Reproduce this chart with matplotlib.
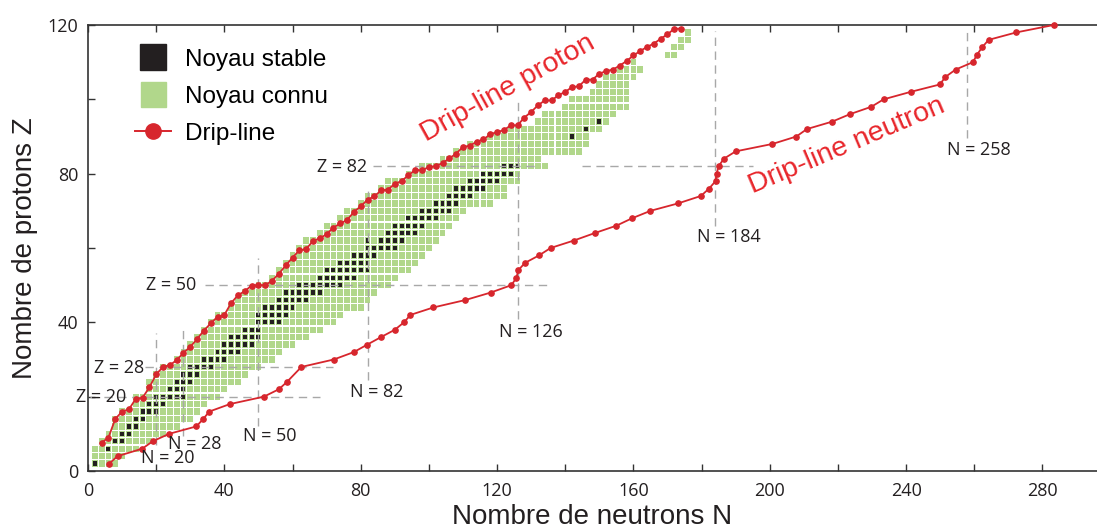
import matplotlib
matplotlib.use('Agg')
import matplotlib.pyplot as plt
from matplotlib.lines import Line2D

plt.rcParams['font.family'] = ['Liberation Sans', 'DejaVu Sans']

# proton drip line: (N, Zmax)
proton_N = [4, 6, 8, 10, 12, 14, 16, 18, 20, 22, 24, 26, 28, 30, 32, 34, 36, 38, 40, 42,
            44, 46, 48, 50, 52, 54, 56, 58, 60, 62, 64, 66, 68, 70, 72, 74, 76, 78, 80, 82,
            84, 86, 88, 90, 92, 94, 96, 98, 100, 102, 104, 106, 108, 110, 112, 114, 116, 118, 120, 122,
            124, 126, 128, 130, 132, 134, 136, 138, 140, 142, 144, 146, 148, 150, 152, 154, 156, 158, 160, 162,
            164, 166, 168, 170, 172, 174]
proton_Z = [7.6, 9, 14, 16, 16.6, 19.4, 19.7, 22.5, 26, 28, 28.5, 29.8, 31.8, 33.4, 35.5, 37.8, 39.7, 41.5, 42, 45.2,
            47.3, 48.4, 49.9, 50, 50, 51.2, 53.1, 55.3, 57.4, 59.4, 59.7, 61.9, 62.6, 63.7, 65.5, 66.6, 67.5, 69.7, 71.2, 73,
            73.9, 75.5, 75.7, 77.3, 78, 79.6, 81, 80.9, 81.8, 82, 82.9, 84.1, 85.4, 87.2, 87.5, 88.6, 89.2, 90.6, 91.2, 91.7,
            93, 93, 95.1, 96.6, 98.4, 99.7, 99.7, 101.1, 102, 103.3, 103.5, 105.3, 105.3, 106.9, 107.6, 108, 109.1, 110.3, 111.8, 113,
            114.1, 115, 116.3, 117.5, 119, 119]

# neutron drip line: (Nmax, Z)
neutron_Z = [2, 4, 6, 8, 10, 12, 14, 16, 18, 20, 22, 24, 28, 30, 32, 34, 36, 38, 40, 42,
             44, 46, 48, 50, 52, 54, 56, 58, 60, 62, 64, 66, 68, 70, 72, 74, 76, 78, 80, 82,
             84, 86, 88, 90, 92, 94, 96, 98, 100, 102, 104, 106, 108, 110, 112, 114, 116, 118, 120]
neutron_N = [6.2, 8.7, 15.9, 19, 23.8, 31.8, 33.8, 35.6, 41.6, 51.6, 56, 58.4, 62.6, 72.1, 78, 81.9, 85.9, 90, 92.7, 94.6,
             101.3, 110.7, 118.1, 124.2, 125.7, 126.2, 128.2, 132.3, 135.7, 142.5, 148.6, 155, 159.6, 165, 173.1, 179.8, 182.2, 184.1, 184.4, 185,
             186.5, 190, 200.8, 207.8, 210.9, 218.3, 223.5, 229.8, 233.4, 241.3, 249.9, 251.5, 254.5, 259.6, 260.8, 262.3, 264.2, 272.3, 283.3]

# known nuclei: one row of cells per even Z, from Nmin to Nmax
known_Z = [2, 4, 6, 8, 10, 12, 14, 16, 18, 20, 22, 24, 26, 28, 30, 32, 34, 36, 38, 40,
           42, 44, 46, 48, 50, 52, 54, 56, 58, 60, 62, 64, 66, 68, 70, 72, 74, 76, 78, 80,
           82, 84, 86, 88, 90, 92, 94, 96, 98, 100, 102, 104, 106, 108, 110, 112, 114, 116, 118]
known_Nmin = [2, 2, 2, 4, 6, 8, 8, 10, 14, 14, 18, 18, 20, 22, 26, 28, 30, 32, 34, 36,
              38, 42, 44, 46, 50, 54, 56, 58, 60, 62, 64, 68, 70, 74, 76, 80, 82, 86, 88, 94,
              98, 104, 108, 112, 118, 124, 132, 134, 140, 142, 148, 150, 152, 156, 160, 170, 172, 174, 176]
known_Nmax = [8, 10, 14, 18, 22, 26, 30, 32, 34, 38, 40, 44, 46, 50, 54, 56, 60, 64, 68, 72,
              74, 80, 82, 84, 88, 90, 94, 96, 98, 100, 102, 104, 106, 108, 110, 118, 122, 122, 126, 126,
              134, 132, 144, 146, 146, 150, 152, 154, 158, 158, 158, 158, 160, 162, 160, 172, 174, 176, 176]

# stable nuclei (even N only on this grid)
stable_Z = [2, 6, 8, 10, 12, 14, 16, 18, 20, 22, 24, 26, 28, 30, 32, 34, 36, 38, 40, 42,
            44, 46, 48, 50, 52, 54, 56, 58, 60, 62, 64, 66, 68, 70, 72, 74, 76, 78, 80, 82,
            90, 92, 94]
stable_N = [[2], [6], [8, 10], [10, 12], [12, 14], [14, 16], [16, 18, 20], [18, 20, 22],
            [20, 22, 24, 26, 28], [24, 26, 28], [26, 28, 30], [28, 30, 32], [30, 32, 34, 36],
            [34, 36, 38, 40], [38, 40, 42, 44], [40, 42, 44, 46, 48], [42, 44, 46, 48, 50],
            [46, 48, 50], [50, 52, 54, 56], [50, 52, 54, 56, 58], [52, 54, 56, 58, 60],
            [56, 58, 60, 62, 64], [58, 60, 62, 64, 66, 68], [62, 64, 66, 68, 70, 72, 74],
            [68, 70, 72, 74, 76, 78], [70, 72, 74, 76, 78, 80, 82], [74, 76, 78, 80, 82],
            [78, 80, 82, 84], [82, 84, 86, 88, 90], [82, 86, 88, 90, 92], [88, 90, 92, 94, 96],
            [90, 92, 94, 96, 98], [94, 96, 98, 100, 102], [98, 100, 102, 104, 106],
            [102, 104, 106, 108], [106, 108, 110, 112], [108, 110, 112, 114, 116],
            [112, 114, 116, 118, 120], [116, 118, 120, 122, 124], [122, 124, 126],
            [142], [146], [150]]

# magic numbers
magic_N = [20, 28, 50, 82, 126, 184, 258]
magic_Z = [20, 28, 50, 82]

x_ticks = [0, 20, 40, 60, 80, 100, 120, 140, 160, 180, 200, 220, 240, 260, 280]
x_tick_labels = ['0', '', '40', '', '80', '', '120', '', '160', '', '200', '', '240', '', '280']
y_ticks = [0, 20, 40, 60, 80, 100, 120]
y_tick_labels = ['0', '', '40', '', '80', '', '120']

GREEN = '#b1d78b'
BLACK = '#231f20'
RED = '#d7262d'
GRAY = '#a8a8a8'
TXT = '#231f20'

fig = plt.figure(figsize=(10.97, 5.31), dpi=100)
ax = fig.add_axes([88 / 1097, 60 / 531, 1009 / 1097, 446 / 531])

for z, n0, n1 in zip(known_Z, known_Nmin, known_Nmax):
    ns = list(range(n0, n1 + 1, 2))
    ax.bar(ns, 1.7, width=1.7, bottom=z - 0.85, color=GREEN, linewidth=0, zorder=1)

for z, ns in zip(stable_Z, stable_N):
    ax.bar(ns, 1.15, width=1.15, bottom=z - 0.575, color=BLACK, linewidth=0, zorder=2)

# dashed guides for the magic numbers
n_spans = [(7, 37), (9.5, 38.5), (12, 57.3), (24.5, 76.4), (41, 100.5), (66, 118.5), (89.5, 119)]
n_label_pos = [(23.3, 3.4), (31.2, 7.3), (53.2, 9.5), (84.7, 21.2), (130, 37.4), (188, 63), (261.4, 86.4)]
for n, (z0, z1), (lx, ly) in zip(magic_N, n_spans, n_label_pos):
    ax.plot([n, n], [z0, z1], color=GRAY, lw=1.0, ls=(0, (6, 4)), zorder=3)
    ax.text(lx, ly, 'N = %d' % n, fontsize=13, family='Open Sans', color=TXT,
            ha='center', va='center', zorder=5)

z_spans = [[(0.5, 68)], [(16.7, 71.8)], [(34.3, 135)], [(83.5, 132.5), (144.8, 195)]]
z_label_pos = [(3.75, 19.8), (9.1, 27.6), (24.5, 50), (74.6, 81.8)]
for z, spans, (lx, ly) in zip(magic_Z, z_spans, z_label_pos):
    for n0, n1 in spans:
        ax.plot([n0, n1], [z, z], color=GRAY, lw=1.0, ls=(0, (6, 4)), zorder=3)
    ax.text(lx, ly, 'Z = %d' % z, fontsize=13, family='Open Sans', color=TXT,
            ha='center', va='center', zorder=5)

# drip lines
ax.plot(proton_N, proton_Z, '-o', color=RED, lw=1.3, ms=3.8, zorder=4, clip_on=False)
ax.plot(neutron_N, neutron_Z, '-o', color=RED, lw=1.3, ms=3.8, zorder=4, clip_on=False)

ax.text(123.2, 103, 'Drip-line proton', color='#e8262b', fontsize=20.5,
        rotation=29, rotation_mode='anchor', ha='center', va='center')
ax.text(222.6, 87.6, 'Drip-line neutron', color='#e8262b', fontsize=20.5,
        rotation=23, rotation_mode='anchor', ha='center', va='center')

handles = [
    Line2D([], [], marker='s', ms=19, ls='none', color=BLACK),
    Line2D([], [], marker='s', ms=18, ls='none', color=GREEN),
    Line2D([], [], marker='o', ms=11, lw=1.4, color=RED),
]
ax.legend(handles, ['Noyau stable', 'Noyau connu', 'Drip-line'], loc='upper left',
          bbox_to_anchor=(0.0466, 0.947), frameon=False, fontsize=17.5,
          handlelength=1.5, handletextpad=0.55, labelspacing=0.62,
          borderpad=0, borderaxespad=0)

ax.set_xlim(0, 296)
ax.set_ylim(0, 120)
ax.set_xticks(x_ticks)
ax.set_xticklabels(x_tick_labels, family='Open Sans', fontsize=13, color=TXT)
ax.set_yticks(y_ticks)
ax.set_yticklabels(y_tick_labels, family='Open Sans', fontsize=13, color=TXT)
ax.tick_params(direction='in', length=5, width=1, top=True, right=False, colors='#333333')
ax.tick_params(axis='x', pad=8)
ax.tick_params(axis='y', pad=7)
for label in ax.get_xticklabels() + ax.get_yticklabels():
    label.set_color(TXT)
ax.spines['right'].set_visible(False)
for s in ['left', 'top', 'bottom']:
    ax.spines[s].set_color('#333333')
    ax.spines[s].set_linewidth(1.2)

ax.set_xlabel('Nombre de neutrons N', fontsize=20, color=TXT)
ax.xaxis.set_label_coords(0.5, -0.075)
ax.set_ylabel('Nombre de protons Z', fontsize=20, color=TXT)
ax.yaxis.set_label_coords(-0.05, 0.5)

fig.savefig('out.png', dpi=100)
